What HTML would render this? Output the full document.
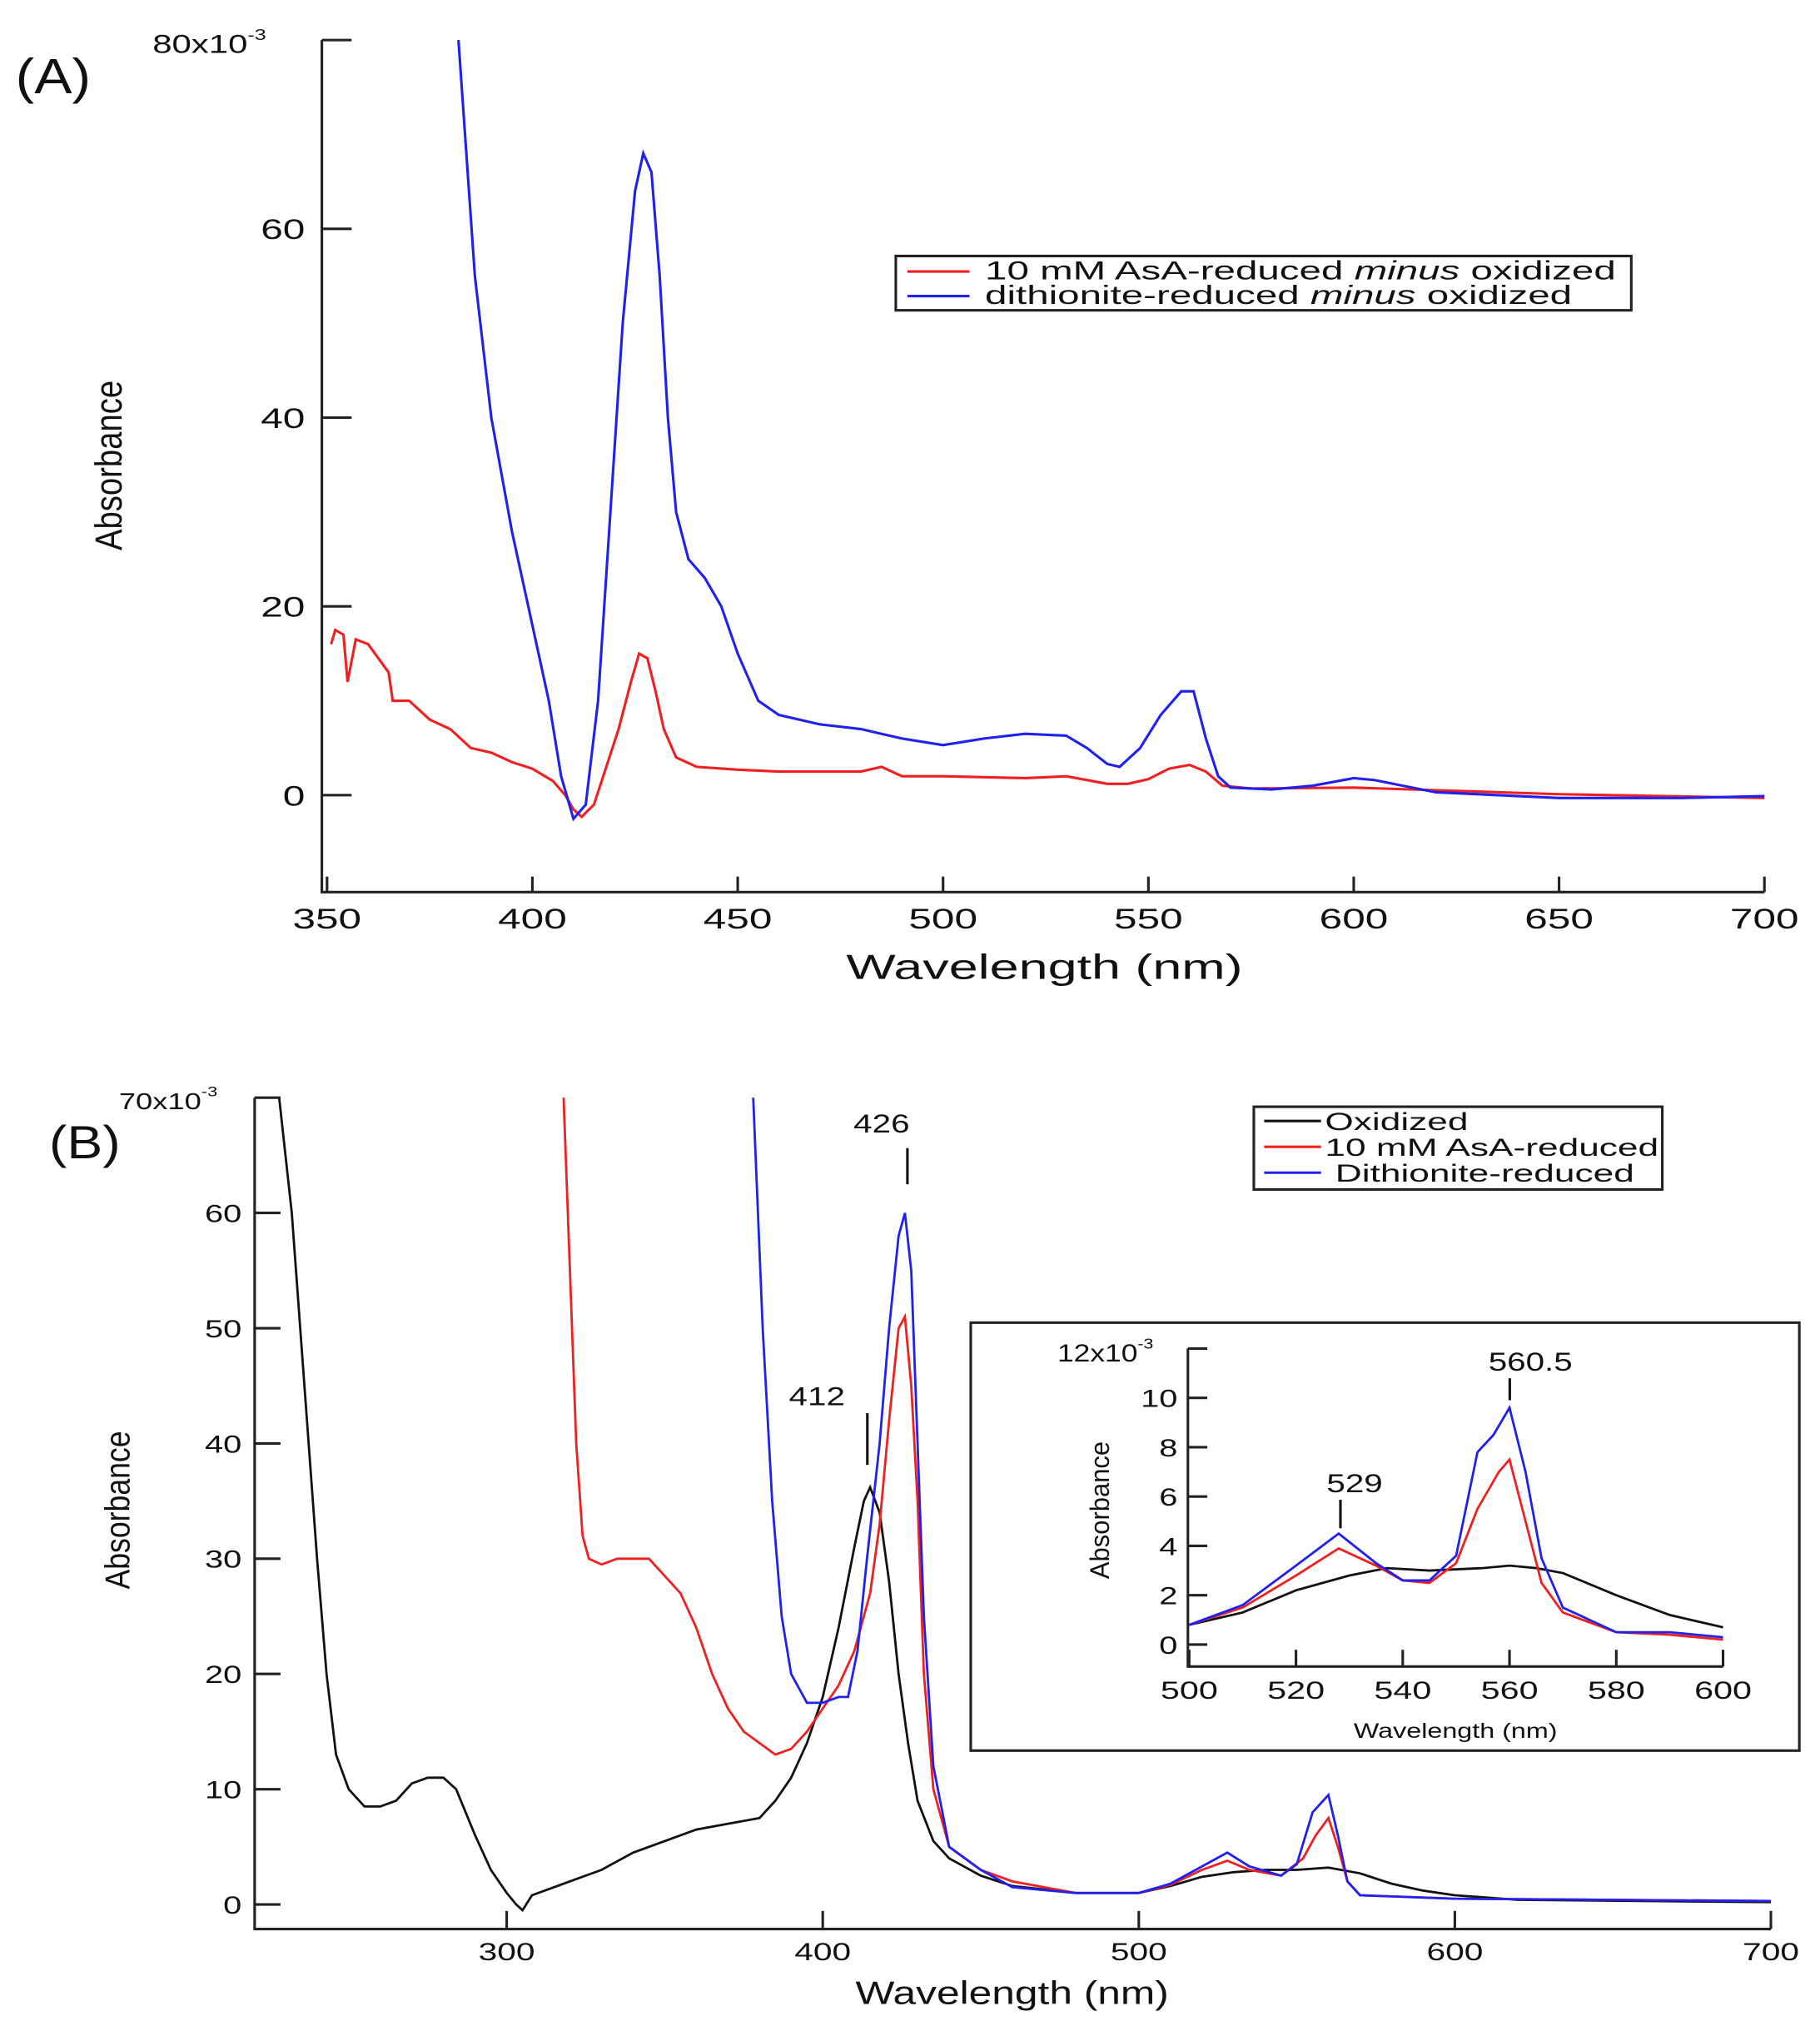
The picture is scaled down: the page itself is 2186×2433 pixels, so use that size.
<!DOCTYPE html>
<html><head><meta charset="utf-8"><style>
html,body{margin:0;padding:0;background:#fff}
svg{display:block}
text{font-family:"Liberation Sans",sans-serif;fill:#111}
</style></head><body>
<svg id="fig" width="2186" height="2433" viewBox="0 0 1408 1567" preserveAspectRatio="none" xmlns="http://www.w3.org/2000/svg">
<g id="gA"></g>
<g id="gB"></g>
<g id="gI"></g>
</svg>
<script>
// Panel A data
const aXTicks=[350,400,450,500,550,600,650,700];
const aYTicks=[0,20,40,60,80];
const aYTickLabels=["0","20","40","60","80x10"];
const aBlueX=[382,386,390,395,400,404,407,410,413,416,419,422,425,427,429,431,433,435,438,442,446,450,455,460,470,480,485,490,500,510,520,530,535,540,543,548,553,558,561,564,567,570,580,590,600,605,620,650,680,700];
const aBlueY=[80,55,40,28,18,10,2,-2.5,-1,10,30,50,64,68,66,55,40,30,25,23,20,15,10,8.5,7.5,7,6.5,6,5.3,6,6.5,6.3,5,3.3,3,5,8.5,11,11,6,2,0.8,0.6,1,1.8,1.6,0.3,-0.3,-0.3,-0.1];
const aRedX=[351,352,354,355,357,360,365,366,370,375,380,385,390,395,400,405,408,410,412,415,418,421,424,426,428,430,432,435,440,450,460,480,485,490,500,520,530,540,545,550,555,560,564,568,575,600,650,700];
const aRedY=[16,17.5,17,12,16.5,16,13,10,10,8,7,5,4.5,3.5,2.8,1.5,0,-1.5,-2.3,-1,3,7,12,15,14.5,11,7,4,3,2.7,2.5,2.5,3,2,2,1.8,2,1.2,1.2,1.7,2.8,3.2,2.5,1,0.7,0.8,0.1,-0.3];
// Panel B data
const bXTicks=[300,400,500,600,700];
const bYTicks=[0,10,20,30,40,50,60,70];
const bBlackX=[228,232,236,240,243,246,250,255,260,265,270,275,280,284,290,295,300,303,305,308,315,320,330,340,350,360,370,380,385,390,395,400,405,410,413,415,418,421,424,427,430,435,440,450,460,480,500,510,520,530,540,550,560,570,580,590,600,620,700];
const bBlackY=[70,60,45,30,20,13,10,8.5,8.5,9,10.5,11,11,10,6,3,1,0,-0.5,0.8,1.5,2,3,4.5,5.5,6.5,7,7.5,9,11,14,18,24,31,35,36.2,34,28,20,14,9,5.5,4,2.5,1.6,1,1,1.6,2.4,2.8,3,3,3.2,2.7,1.8,1.2,0.8,0.4,0.2];
const bRedX=[318,320,322,324,326,330,335,340,345,350,355,360,365,370,375,380,385,390,395,400,405,410,415,418,421,424,426,428,430,432,435,440,450,460,480,500,510,520,528,535,545,552,556,560,563,566,570,600,700];
const bRedY=[70,55,40,32,30,29.5,30,30,30,28.5,27,24,20,17,15,14,13,13.5,15,17,19,22,27,33,42,50,51,45,35,20,10,5,3,2,1,1,1.7,3,3.8,3,2.5,4,6,7.5,5,2,0.8,0.5,0.3];
const bBlueX=[378,381,384,387,390,395,400,405,408,411,414,418,421,424,426,428,430,432,435,440,450,460,480,500,510,520,528,535,545,550,555,560,563,566,570,600,700];
const bBlueY=[70,50,35,25,20,17.5,17.5,18,18,22,30,40,50,58,60,55,40,25,12,5,3,1.5,1,1,1.8,3.3,4.5,3.3,2.5,3.5,8,9.5,6,2,0.8,0.5,0.3];
// Inset data
const iXTicks=[500,520,540,560,580,600];
const iYTicks=[0,2,4,6,8,10,12];
const iBlackX=[500,510,520,530,537,545,555,560,565,570,580,590,600];
const iBlackY=[0.8,1.3,2.2,2.8,3.1,3,3.1,3.2,3.1,2.9,2,1.2,0.7];
const iRedX=[500,510,520,528,535,540,545,550,554,558,560,563,566,570,580,590,600];
const iRedY=[0.8,1.5,2.8,3.9,3.2,2.6,2.5,3.3,5.5,7,7.5,5,2.5,1.3,0.5,0.4,0.2];
const iBlueX=[500,510,520,528,535,540,545,550,554,557,560,563,566,570,580,590,600];
const iBlueY=[0.8,1.6,3.2,4.5,3.3,2.6,2.6,3.6,7.8,8.5,9.6,7,3.5,1.5,0.5,0.5,0.3];

const NS="http://www.w3.org/2000/svg";
function mk(parent,tag,attrs,txt){const e=document.createElementNS(NS,tag);for(const k in attrs)e.setAttribute(k,attrs[k]);if(txt!==undefined)e.textContent=txt;parent.appendChild(e);return e;}
function T(parent,x,y,size,anchor,html,sx,rot){
  let tr='translate('+x+','+y+')'+(rot?' rotate(-90)':'')+' scale('+sx+',1)';
  const e=mk(parent,'text',{x:0,y:0,'font-size':size,'text-anchor':anchor,transform:tr});
  e.innerHTML=html;return e;}
function lin(d0,d1,r0,r1){return v=>r0+(v-d0)*(r1-r0)/(d1-d0);}
function pathOf(xs,ys,sx,sy,ymin,ymax){let d="";for(let i=0;i<xs.length;i++){let v=Math.max(ymin,Math.min(ymax,ys[i]));d+=(i?"L":"M")+sx(xs[i]).toFixed(2)+","+sy(v).toFixed(2);}return d;}
const EXP='<tspan dy="-10" font-size="0.6em">-3</tspan>';
let e;

// ---------- Panel A ----------
const gA=document.getElementById('gA');
const axA=lin(350,700,253,1365), ayA=lin(0,80,615,31);
e=T(gA,12,72,38,'start','(A)',1.15,false);

e=mk(gA,'path',{d:'M249,31L249,690L1365,690',fill:'none',stroke:'#222','stroke-width':2});

aYTicks.forEach((t,i)=>{const y=ayA(t);
 e=mk(gA,'line',{x1:249,x2:272,y1:y,y2:y,stroke:'#222','stroke-width':2});
 
 if(i===aYTicks.length-1){e=T(gA,118,y+10,20,'start','80x10'+EXP,1.35,false);}
 else e=T(gA,236,y+8,22,'end',aYTickLabels[i],1.4,false);
 
});
aXTicks.forEach(t=>{const x=axA(t);
 e=mk(gA,'line',{x1:x,x2:x,y1:690,y2:678,stroke:'#222','stroke-width':2});
 
 e=T(gA,x,718,22,'middle',String(t),1.45,false);
 
});
e=T(gA,808,757,27,'middle','Wavelength (nm)',1.5,false);

e=T(gA,94,360,29,'middle','Absorbance',0.85,true);

e=mk(gA,'path',{d:pathOf(aRedX,aRedY,axA,ayA,-10,80),fill:'none',stroke:'#f02020','stroke-width':2});

e=mk(gA,'path',{d:pathOf(aBlueX,aBlueY,axA,ayA,-10,80),fill:'none',stroke:'#2020f0','stroke-width':2});

e=mk(gA,'rect',{x:693,y:198,width:569,height:42,fill:'#fff',stroke:'#222','stroke-width':2});

e=mk(gA,'line',{x1:702,x2:750,y1:210,y2:210,stroke:'#f02020','stroke-width':2});

e=mk(gA,'line',{x1:702,x2:750,y1:229,y2:229,stroke:'#2020f0','stroke-width':2});

e=T(gA,762,216,20,'start','10 mM AsA-reduced <tspan font-style="italic">minus</tspan> oxidized',1.53,false);

e=T(gA,762,235,20,'start','dithionite-reduced <tspan font-style="italic">minus</tspan> oxidized',1.53,false);


// ---------- Panel B ----------
const gB=document.getElementById('gB');
const axB=lin(300,700,392,1370), ayB=lin(0,70,1473,849);
e=T(gB,38,896,36,'start','(B)',1.15,false);

e=mk(gB,'path',{d:'M197,849L197,1492L1370,1492',fill:'none',stroke:'#222','stroke-width':2});

bYTicks.forEach((t,i)=>{const y=ayB(t);
 e=mk(gB,'line',{x1:197,x2:217,y1:y,y2:y,stroke:'#222','stroke-width':2});
 
 if(i===bYTicks.length-1) e=T(gB,92,y+9,18,'start','70x10'+EXP,1.3,false);
 else e=T(gB,187,y+7,19,'end',String(t),1.35,false);
 
});
bXTicks.forEach(t=>{const x=axB(t);
 e=mk(gB,'line',{x1:x,x2:x,y1:1492,y2:1478,stroke:'#222','stroke-width':2});
 
 e=T(gB,x,1516,19,'middle',String(t),1.38,false);
 
});
e=T(gB,783,1550,25,'middle','Wavelength (nm)',1.28,false);

e=T(gB,100,1168,27,'middle','Absorbance',0.85,true);

e=mk(gB,'path',{d:pathOf(bBlackX,bBlackY,axB,ayB,-5,70),fill:'none',stroke:'#111','stroke-width':1.8});

e=mk(gB,'path',{d:pathOf(bRedX,bRedY,axB,ayB,-5,70),fill:'none',stroke:'#f02020','stroke-width':1.8});

e=mk(gB,'path',{d:pathOf(bBlueX,bBlueY,axB,ayB,-5,70),fill:'none',stroke:'#2020f0','stroke-width':1.8});

e=T(gB,682,876,20,'middle','426',1.3,false);

e=mk(gB,'line',{x1:702,x2:702,y1:888,y2:916,stroke:'#111','stroke-width':2});

e=T(gB,632,1087,20,'middle','412',1.3,false);

e=mk(gB,'line',{x1:671,x2:671,y1:1093,y2:1133,stroke:'#111','stroke-width':2});

e=mk(gB,'rect',{x:970,y:856,width:316,height:64,fill:'#fff',stroke:'#222','stroke-width':2});

[['#111','Oxidized',873,'legend-entry-oxidized'],['#f02020','10 mM AsA-reduced',893,'legend-entry-asa-reduced'],['#2020f0','Dithionite-reduced',913,'legend-entry-dithionite-reduced']].forEach((r,i)=>{
 e=mk(gB,'line',{x1:978,x2:1022,y1:r[2]-6,y2:r[2]-6,stroke:r[0],'stroke-width':2});
 
 e=T(gB,i===2?1033:1025,r[2]+1,19,'start',r[1],1.5,false);
 
});

// ---------- Inset ----------
const gI=document.getElementById('gI');
const axI=lin(500,600,920,1333), ayI=lin(0,12,1272,1043);
e=mk(gI,'rect',{x:751,y:1023,width:641,height:331,fill:'#fff',stroke:'#222','stroke-width':2});

e=mk(gI,'path',{d:'M919,1043L919,1289L1333,1289',fill:'none',stroke:'#222','stroke-width':2});

iYTicks.forEach((t,i)=>{const y=ayI(t);
 e=mk(gI,'line',{x1:919,x2:934,y1:y,y2:y,stroke:'#222','stroke-width':2});
 
 if(i===iYTicks.length-1) e=T(gI,818,y+10,19,'start','12x10'+EXP,1.2,false);
 else e=T(gI,911,y+7,19,'end',String(t),1.35,false);
 
});
iXTicks.forEach(t=>{const x=axI(t);
 e=mk(gI,'line',{x1:x,x2:x,y1:1289,y2:1276,stroke:'#222','stroke-width':2});
 
 e=T(gI,x,1314,19,'middle',String(t),1.4,false);
 
});
e=T(gI,1126,1344,16,'middle','Wavelength (nm)',1.3,false);

e=T(gI,858,1168,21,'middle','Absorbance',0.95,true);

e=mk(gI,'path',{d:pathOf(iBlackX,iBlackY,axI,ayI,-1,12),fill:'none',stroke:'#111','stroke-width':1.8});

e=mk(gI,'path',{d:pathOf(iRedX,iRedY,axI,ayI,-1,12),fill:'none',stroke:'#f02020','stroke-width':1.8});

e=mk(gI,'path',{d:pathOf(iBlueX,iBlueY,axI,ayI,-1,12),fill:'none',stroke:'#2020f0','stroke-width':1.8});

e=T(gI,1184,1060,20,'middle','560.5',1.3,false);

e=mk(gI,'line',{x1:1168,x2:1168,y1:1066,y2:1083,stroke:'#111','stroke-width':2});

e=T(gI,1048,1154,20,'middle','529',1.3,false);

e=mk(gI,'line',{x1:1037,x2:1037,y1:1160,y2:1182,stroke:'#111','stroke-width':2});

</script>
</body></html>
